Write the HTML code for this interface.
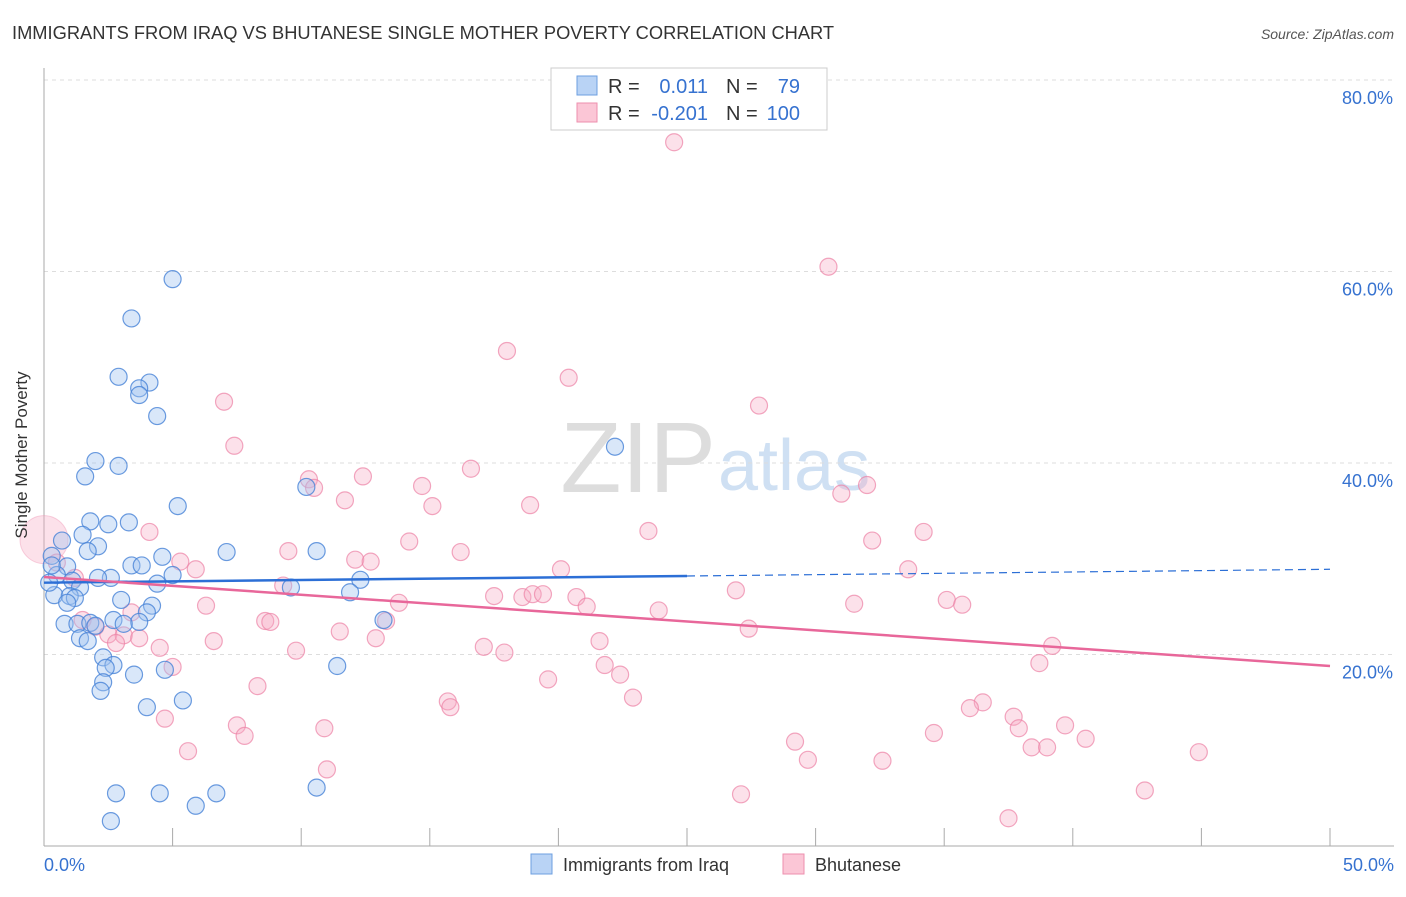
<!DOCTYPE html>
<html><head><meta charset="utf-8"><style>
body{margin:0;background:#fff;font-family:"Liberation Sans",sans-serif;}
svg text{font-family:"Liberation Sans",sans-serif;}
</style></head><body>
<svg id="chart" width="1406" height="892" xmlns="http://www.w3.org/2000/svg">
<text x="12" y="39" font-size="18.3" fill="#333">IMMIGRANTS FROM IRAQ VS BHUTANESE SINGLE MOTHER POVERTY CORRELATION CHART</text>
<text x="1394" y="39" font-size="14" font-style="italic" fill="#555" text-anchor="end">Source: ZipAtlas.com</text>
<text x="716" y="492" font-size="100" font-family="Liberation Serif" fill="#ddd" text-anchor="end">ZIP</text>
<text x="718" y="490" font-size="72" fill="#cfe0f3">atlas</text>
<g id="grid"></g>
<g id="marks"></g>
<text x="27" y="455" font-size="17" fill="#333" text-anchor="middle" transform="rotate(-90 27 455)">Single Mother Poverty</text>
<g>
<rect x="551" y="68" width="276" height="62" fill="#fff" stroke="#ccc"/>
<rect x="577" y="76" width="20" height="19" fill="#b9d3f5" stroke="#6d9fe0"/>
<rect x="577" y="103" width="20" height="19" fill="#fbc6d6" stroke="#ee8fae"/>
<text x="608" y="93" font-size="20" fill="#333">R =</text>
<text x="708" y="93" font-size="20" fill="#3672d0" text-anchor="end">0.011</text>
<text x="726" y="93" font-size="20" fill="#333">N =</text>
<text x="800" y="93" font-size="20" fill="#3672d0" text-anchor="end">79</text>
<text x="608" y="120" font-size="20" fill="#333">R =</text>
<text x="708" y="120" font-size="20" fill="#3672d0" text-anchor="end">-0.201</text>
<text x="726" y="120" font-size="20" fill="#333">N =</text>
<text x="800" y="120" font-size="20" fill="#3672d0" text-anchor="end">100</text>
</g>
<g>
<rect x="531" y="854" width="21" height="20" fill="#b9d3f5" stroke="#6d9fe0"/>
<text x="563" y="871" font-size="18" fill="#333">Immigrants from Iraq</text>
<rect x="783" y="854" width="21" height="20" fill="#fbc6d6" stroke="#ee8fae"/>
<text x="815" y="871" font-size="18" fill="#333">Bhutanese</text>
</g>
</svg>
<script>
const xTicks=[0,5,10,15,20,25,30,35,40,45,50];
const yTicks=[20,40,60,80];
const iraqX=[5.0,3.4,2.9,4.1,3.7,3.7,4.4,22.2,2.0,2.9,1.6,10.2,5.2,1.8,3.3,2.5,1.5,0.7,2.1,1.7,7.1,10.6,4.6,0.3,3.4,3.8,0.9,5.0,2.6,2.1,0.5,12.3,4.4,1.1,1.4,9.6,11.9,0.4,1.0,1.2,0.9,3.0,4.2,4.0,2.7,3.7,3.1,0.8,1.3,1.8,13.2,2.0,1.4,1.7,2.3,2.7,2.4,11.4,4.7,3.5,2.3,2.2,5.4,4.0,2.8,4.5,6.7,10.6,5.9,2.6,0.3,0.2];
const iraqY=[59.2,55.1,49.0,48.4,47.8,47.1,44.9,41.7,40.2,39.7,38.6,37.5,35.5,33.9,33.8,33.6,32.5,31.9,31.3,30.8,30.7,30.8,30.2,30.3,29.3,29.3,29.2,28.3,28.0,28.0,28.3,27.8,27.4,27.7,27.0,27.0,26.5,26.2,26.1,25.9,25.4,25.7,25.1,24.4,23.6,23.4,23.2,23.2,23.2,23.3,23.6,23.0,21.7,21.4,19.7,18.9,18.6,18.8,18.4,17.9,17.1,16.2,15.2,14.5,5.5,5.5,5.5,6.1,4.2,2.6,29.3,27.5];
const bhuX=[24.5,30.5,18.0,20.4,27.8,7.0,7.4,16.6,10.3,12.4,14.7,10.5,32.0,31.0,11.7,15.1,18.9,4.1,23.5,34.2,32.2,14.2,9.5,16.2,5.3,12.1,12.7,5.9,20.1,33.6,0.5,1.2,9.3,17.5,18.6,19.0,19.4,20.7,26.9,35.1,35.7,13.8,21.1,6.3,31.5,23.9,3.4,1.5,8.6,8.8,13.3,2.0,2.5,11.5,27.4,3.1,3.7,12.9,6.6,21.6,2.8,4.5,17.1,17.9,9.8,39.2,5.0,21.8,38.7,22.4,19.6,8.3,22.9,15.7,15.8,36.5,36.0,37.7,4.7,10.9,39.7,37.9,7.5,7.8,34.6,40.5,29.2,38.4,39.0,5.6,44.9,29.7,32.6,11.0,42.8,27.1,37.5];
const bhuY=[73.5,60.5,51.7,48.9,46.0,46.4,41.8,39.4,38.3,38.6,37.6,37.4,37.7,36.8,36.1,35.5,35.6,32.8,32.9,32.8,31.9,31.8,30.8,30.7,29.7,29.9,29.7,28.9,28.9,28.9,29.6,28.0,27.2,26.1,26.0,26.3,26.3,26.0,26.7,25.7,25.2,25.4,25.0,25.1,25.3,24.6,24.4,23.6,23.5,23.4,23.5,22.9,22.1,22.4,22.7,22.0,21.7,21.7,21.4,21.4,21.2,20.7,20.8,20.2,20.4,20.9,18.7,18.9,19.1,17.9,17.4,16.7,15.5,15.1,14.5,15.0,14.4,13.5,13.3,12.3,12.6,12.3,12.6,11.5,11.8,11.2,10.9,10.3,10.3,9.9,9.8,9.0,8.9,8.0,5.8,5.4,2.9];
const iraqTrend=[27.5,28.9];
const bhuTrend=[28.1,18.8];
const NS="http://www.w3.org/2000/svg";
const X0=44,X1=1330,Y0=846,PY=191.5/20;
function sx(v){return X0+(v/50)*(X1-X0);}
function sy(v){return Y0-v*PY;}
function mk(tag,attrs,parent){const e=document.createElementNS(NS,tag);for(const k in attrs)e.setAttribute(k,attrs[k]);parent.appendChild(e);return e;}
const grid=document.getElementById('grid'),marks=document.getElementById('marks');
yTicks.forEach(t=>{
  const l=mk('line',{x1:X0,x2:1394,y1:sy(t),y2:sy(t),stroke:'#ddd','stroke-dasharray':'4,4'},grid);
  
  
  const tx=mk('text',{x:1393,y:sy(t)+24,'font-size':18,fill:'#3672d0','text-anchor':'end'},grid);
  tx.textContent=t.toFixed(1)+'%';
  
  
});
mk('line',{x1:X0,x2:X0,y1:68,y2:Y0,stroke:'#aaa'},grid);
mk('line',{x1:X0,x2:1394,y1:Y0,y2:Y0,stroke:'#aaa'},grid);
xTicks.forEach(t=>{
  const l=mk('line',{x1:sx(t),x2:sx(t),y1:Y0,y2:Y0-18,stroke:'#aaa'},grid);
  
  
});
[[0,'start',X0],[50,'end',1394]].forEach(a=>{
  const tx=mk('text',{x:a[2],y:871,'font-size':18,fill:'#3672d0','text-anchor':a[1]},grid);
  tx.textContent=a[0].toFixed(1)+'%';
  
  
});
const big=mk('circle',{cx:sx(0),cy:sy(32),r:24,fill:'rgba(246,170,195,0.35)',stroke:'rgba(238,143,174,0.4)'},marks);


bhuX.forEach((x,i)=>{
  const c=mk('circle',{cx:sx(x),cy:sy(bhuY[i]),r:8.5,fill:'rgba(246,170,195,0.35)',stroke:'rgba(236,130,165,0.7)','stroke-width':1.2},marks);
  
  
});
iraqX.forEach((x,i)=>{
  const c=mk('circle',{cx:sx(x),cy:sy(iraqY[i]),r:8.5,fill:'rgba(160,195,240,0.4)',stroke:'rgba(70,130,215,0.8)','stroke-width':1.2},marks);
  
  
});
const f=v=>iraqTrend[0]+(iraqTrend[1]-iraqTrend[0])*v/50;
const t1=mk('line',{x1:sx(0),y1:sy(f(0)),x2:sx(25),y2:sy(f(25)),stroke:'#2c6fd6','stroke-width':2.5},marks);


const t2=mk('line',{x1:sx(25),y1:sy(f(25)),x2:sx(50),y2:sy(f(50)),stroke:'#2c6fd6','stroke-width':1.2,'stroke-dasharray':'8,5'},marks);


const t3=mk('line',{x1:sx(0),y1:sy(bhuTrend[0]),x2:sx(50),y2:sy(bhuTrend[1]),stroke:'#e8679a','stroke-width':2.5},marks);


</script>
</body></html>
